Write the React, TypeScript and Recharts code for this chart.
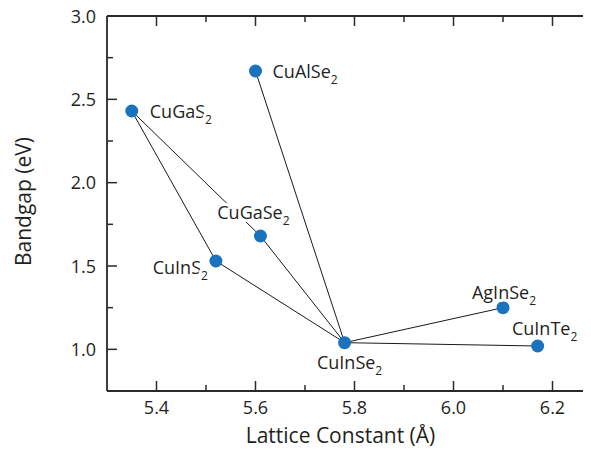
import { ScatterChart, Scatter, XAxis, YAxis, Label } from 'recharts';

const compounds = ['CuGaS2', 'CuAlSe2', 'CuGaSe2', 'CuInS2', 'CuInSe2', 'AgInSe2', 'CuInTe2'];
const latticeA = [5.35, 5.6, 5.61, 5.52, 5.78, 6.1, 6.17];
const bandgapEv = [2.43, 2.67, 1.68, 1.53, 1.04, 1.25, 1.02];

const links: [string, string][] = [
  ['CuGaS2', 'CuInS2'],
  ['CuGaS2', 'CuGaSe2'],
  ['CuInS2', 'CuInSe2'],
  ['CuGaSe2', 'CuInSe2'],
  ['CuAlSe2', 'CuInSe2'],
  ['CuInSe2', 'AgInSe2'],
  ['CuInSe2', 'CuInTe2'],
];

const xTicks = [5.4, 5.5, 5.6, 5.7, 5.8, 5.9, 6.0, 6.1, 6.2];
const yTicks = [1.0, 1.25, 1.5, 1.75, 2.0, 2.25, 2.5, 2.75, 3.0];

const AXIS = '#2a2a2a';
const TEXT = '#231f20';
const BLUE = '#1b72bd';
const FONT = '"Open Sans", sans-serif';

// layout: the plot box edges follow from these
const CHART_W = 600;
const CHART_H = 450;
const MARGIN = { top: 15, right: 6, bottom: 2, left: 0 };
const TOP_AXIS_H = 1;
const Y_AXIS_W = 99;
const X_AXIS_H = 57;
const PLOT_LEFT = MARGIN.left + Y_AXIS_W;
const PLOT_TOP = MARGIN.top + TOP_AXIS_H;
const PLOT_BOTTOM = CHART_H - MARGIN.bottom - X_AXIS_H;

// where each compound's label sits relative to its dot
const LABEL_POS: Record<string, { dx: number; dy: number; anchor: 'start' | 'middle' | 'end' }> = {
  CuGaS2: { dx: 18, dy: 7, anchor: 'start' },
  CuAlSe2: { dx: 17, dy: 7, anchor: 'start' },
  CuGaSe2: { dx: -7, dy: -17, anchor: 'middle' },
  CuInS2: { dx: -8, dy: 13, anchor: 'end' },
  CuInSe2: { dx: 5, dy: 26, anchor: 'middle' },
  AgInSe2: { dx: 1, dy: -9, anchor: 'middle' },
  CuInTe2: { dx: 7, dy: -11, anchor: 'middle' },
};

const points = compounds.map((name, i) => ({ name, x: latticeA[i], y: bandgapEv[i] }));
const byName = Object.fromEntries(points.map((p) => [p.name, p]));
const segments = links.map(([a, b]) => [byName[a], byName[b]]);

const isMajorX = (v: number) => Math.round(v * 10) % 2 === 0;
const isMajorY = (v: number) => Math.round(v * 4) % 2 === 0;

function BottomTick({ x, payload }: any) {
  const major = isMajorX(payload.value);
  const y = PLOT_BOTTOM;
  return (
    <g>
      <line x1={x} x2={x} y1={y} y2={y - (major ? 10 : 6)} stroke={AXIS} strokeWidth={1.5} />
      {major && (
        <text x={x} y={y + 23} textAnchor="middle" fontSize={18} fontFamily={FONT} fill={TEXT}>
          {payload.value.toFixed(1)}
        </text>
      )}
    </g>
  );
}

function TopTick({ x, payload }: any) {
  const major = isMajorX(payload.value);
  const y = PLOT_TOP;
  return <line x1={x} x2={x} y1={y} y2={y + (major ? 10 : 6)} stroke={AXIS} strokeWidth={1.5} />;
}

function LeftTick({ y, payload }: any) {
  const major = isMajorY(payload.value);
  const x = PLOT_LEFT;
  return (
    <g>
      <line x1={x} x2={x + (major ? 10 : 6)} y1={y} y2={y} stroke={AXIS} strokeWidth={1.5} />
      {major && (
        <text x={x - 11} y={y + 6.5} textAnchor="end" fontSize={18} fontFamily={FONT} fill={TEXT}>
          {payload.value.toFixed(1)}
        </text>
      )}
    </g>
  );
}

function CompoundDot({ cx, cy, payload }: any) {
  const pos = LABEL_POS[payload.name];
  const base = payload.name.slice(0, -1);
  const sub = payload.name.slice(-1);
  return (
    <g>
      <circle cx={cx} cy={cy} r={6.5} fill={BLUE} />
      <text
        x={cx + pos.dx}
        y={cy + pos.dy}
        textAnchor={pos.anchor}
        fontSize={18}
        fontFamily={FONT}
        fill={TEXT}
        stroke="#fff"
        strokeWidth={6}
        strokeLinejoin="round"
        paintOrder="stroke"
      >
        <tspan>{base}</tspan>
        <tspan dy={6} fontSize={12}>{sub}</tspan>
      </text>
    </g>
  );
}

function YTitle({ viewBox }: any) {
  const cx = viewBox.x + 23;
  const cy = viewBox.y + viewBox.height / 2 - 2;
  return (
    <text
      transform={`translate(${cx},${cy}) rotate(-90)`}
      textAnchor="middle"
      fontSize={21}
      fontFamily={FONT}
      fill={TEXT}
    >
      Bandgap (eV)
    </text>
  );
}

export default function App() {
  return (
    <div style={{ width: 583, height: CHART_H, overflow: 'hidden', marginTop: -8 }}>
      <ScatterChart width={CHART_W} height={CHART_H} margin={MARGIN}>
        <XAxis
          xAxisId="top"
          orientation="top"
          type="number"
          dataKey="x"
          domain={[5.3, 6.3]}
          ticks={xTicks}
          interval={0}
          height={TOP_AXIS_H}
          tickLine={false}
          tick={<TopTick />}
          axisLine={{ stroke: AXIS, strokeWidth: 1.8 }}
          allowDataOverflow
        />
        <XAxis
          xAxisId="bottom"
          type="number"
          dataKey="x"
          domain={[5.3, 6.3]}
          ticks={xTicks}
          interval={0}
          height={X_AXIS_H}
          tickLine={false}
          tick={<BottomTick />}
          axisLine={{ stroke: AXIS, strokeWidth: 1.8 }}
          allowDataOverflow
        >
          <Label
            value="Lattice Constant (Å)"
            position="insideBottom"
            offset={5}
            dx={-14}
            fontSize={21}
            fontFamily={FONT}
            fill={TEXT}
          />
        </XAxis>
        <YAxis
          type="number"
          dataKey="y"
          domain={[0.75, 3.0]}
          ticks={yTicks}
          interval={0}
          width={Y_AXIS_W}
          tickLine={false}
          tick={<LeftTick />}
          axisLine={{ stroke: AXIS, strokeWidth: 1.8 }}
          allowDataOverflow
        >
          <Label content={<YTitle />} />
        </YAxis>
        {/* keeps the top frame axis in use */}
        <Scatter xAxisId="top" data={points} shape={() => <g />} isAnimationActive={false} />
        {segments.map((seg, i) => (
          <Scatter
            key={i}
            xAxisId="bottom"
            data={seg}
            line={{ stroke: '#1a1a1a', strokeWidth: 1 }}
            shape={() => <g />}
            isAnimationActive={false}
          />
        ))}
        <Scatter xAxisId="bottom" data={points} shape={<CompoundDot />} isAnimationActive={false} />
      </ScatterChart>
    </div>
  );
}
